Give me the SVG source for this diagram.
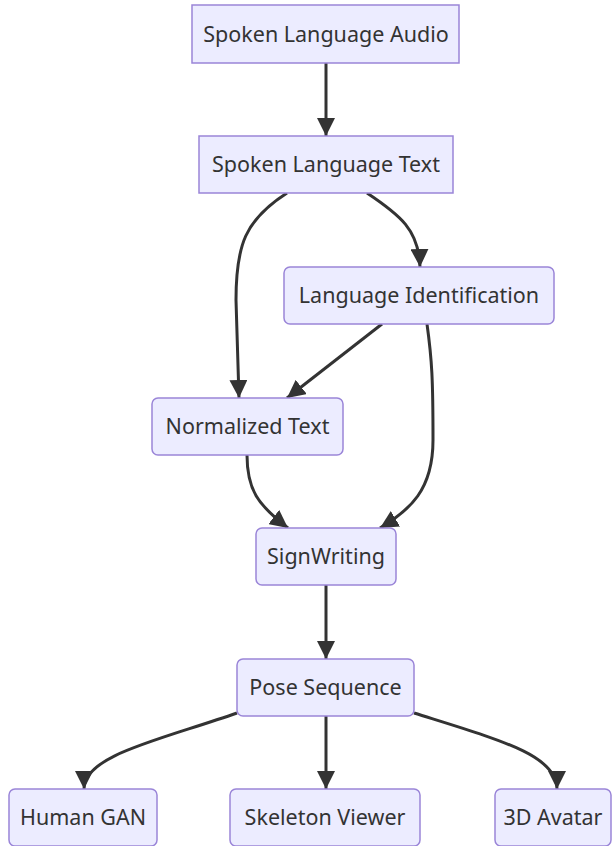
<svg xmlns="http://www.w3.org/2000/svg" width="613" height="846" viewBox="0 0 613 846">
<defs>
<marker id="arr" viewBox="0 0 10 10" refX="10" refY="5" markerWidth="18" markerHeight="18" markerUnits="userSpaceOnUse" orient="auto">
<path d="M0,0 L10,5 L0,10 z" fill="#333"/>
</marker>
<style>
.node rect{fill:#ECECFF;stroke:#9a85d8;stroke-width:1.5}
.node text{font-family:"Noto Sans","DejaVu Sans",sans-serif;font-size:21.5px;fill:#333;text-anchor:middle;dominant-baseline:central}
.edges path{fill:none;stroke:#333;stroke-width:3;marker-end:url(#arr)}
</style>
</defs>
<rect width="613" height="846" fill="#fff"/>
<g class="edges">
<path d="M326,63 L326,136"/>
<path d="M287,193 C245,220 236,245 236,300 L239,398"/>
<path d="M367,193 C400,215 419,230 420,267"/>
<path d="M382,324 L287,398"/>
<path d="M427,324 C432,360 433,380 433,440 C433,490 410,510 380,528"/>
<path d="M247,455 C247,490 258,505 288,528"/>
<path d="M326,585 L326,659"/>
<path d="M237,713 C160,740 84,755 84,789"/>
<path d="M326,716 L326,789"/>
<path d="M414,713 C500,740 557,755 557,789"/>
</g>
<g id="audio" class="node"><rect x="192" y="5" width="267" height="58"/><text x="326" y="33">Spoken Language Audio</text></g>
<g id="text" class="node"><rect x="199" y="136" width="254" height="57"/><text x="326" y="163.5">Spoken Language Text</text></g>
<g id="langid" class="node"><rect x="284" y="267" width="270" height="57" rx="6"/><text x="419" y="294.5">Language Identification</text></g>
<g id="normalized" class="node"><rect x="152" y="398" width="191" height="57" rx="6"/><text x="247.5" y="425.5">Normalized Text</text></g>
<g id="signwriting" class="node"><rect x="256" y="528" width="140" height="57" rx="6"/><text x="326" y="555.5">SignWriting</text></g>
<g id="pose" class="node"><rect x="237" y="659" width="177" height="57" rx="6"/><text x="325.5" y="686.5">Pose Sequence</text></g>
<g id="gan" class="node"><rect x="9" y="789" width="148" height="57" rx="6"/><text x="83" y="816.5">Human GAN</text></g>
<g id="skeleton" class="node"><rect x="230" y="789" width="190" height="57" rx="6"/><text x="325" y="816.5">Skeleton Viewer</text></g>
<g id="avatar" class="node"><rect x="495" y="789" width="116" height="57" rx="6"/><text x="553" y="816.5">3D Avatar</text></g>
</svg>
